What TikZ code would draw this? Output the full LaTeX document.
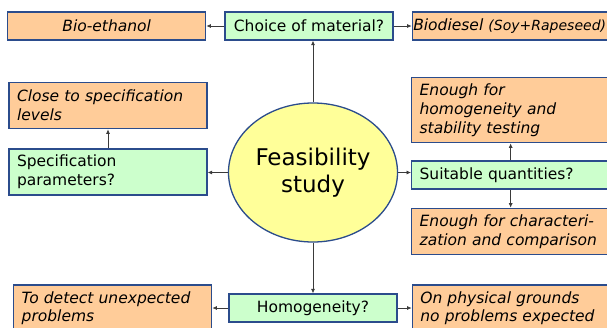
\documentclass[tikz,border=0pt]{standalone}
\usepackage{fontspec}
\setmainfont{DejaVu Sans}
\usepackage{tikz}
\usetikzlibrary{arrows.meta,positioning,shapes.geometric}
\definecolor{borde}{HTML}{2B4C8C}
\definecolor{naranja}{HTML}{FFCC99}
\definecolor{verde}{HTML}{CCFFCC}
\definecolor{amarillo}{HTML}{FFFF99}
\definecolor{linea}{HTML}{3A3A3A}

\begin{document}
\begin{tikzpicture}[x=1pt,y=-1pt,
    pregunta/.style={draw=borde,fill=verde,line width=1.3pt,minimum height=28pt,minimum width=168pt,inner sep=0pt,font=\fontsize{15.5}{19}\selectfont},
    respuesta/.style={draw=borde,fill=naranja,line width=1.3pt,minimum width=198pt,text width=182pt,inner xsep=8pt,inner ysep=0pt,align=left,font=\fontsize{15.5}{19}\selectfont\itshape},
    flecha/.style={-{Latex[length=4.5pt,width=4pt]},line width=0.7pt,linea}]
  \useasboundingbox (0,0) rectangle (607,327);
  \clip (0,0) rectangle (607,327);

  \node[ellipse,draw=borde,fill=amarillo,line width=1.3pt,minimum width=169pt,minimum height=139pt,inner sep=0pt,align=center,font=\fontsize{23}{27}\selectfont] (estudio) at (313,172.5) {Feasibility\\study};

  % top row
  \node[pregunta] (material) at (309,26) {Choice of material?};
  \node[respuesta,left=18pt of material,align=center,minimum height=28pt] (etanol) {Bio-ethanol};
  \node[respuesta,right=18pt of material,minimum height=28pt,inner xsep=1pt,text width=222pt] (biodiesel) {Biodiesel {\fontsize{14}{17}\selectfont(Soy+Rapeseed)}};

  % left column
  \node[respuesta,fill=verde,font=\fontsize{15.5}{19}\selectfont,minimum height=46pt] (parametros) at (108,172) {Specification\\parameters?};
  \node[respuesta,above=19pt of parametros,minimum height=46pt] (niveles) {Close to specification\\levels};

  % right column
  \node[pregunta,anchor=west,minimum width=198pt,text width=182pt,inner xsep=8pt,align=left] (cantidades) at (411,175) {Suitable quantities?};
  \node[respuesta,above=17pt of cantidades,minimum height=65pt] (ensayos) {Enough for\\homogeneity and\\stability testing};
  \node[respuesta,below=18pt of cantidades,minimum height=46pt] (comparacion) {Enough for characteri-\\zation and comparison};

  % bottom row
  \node[pregunta] (homogeneidad) at (313,308) {Homogeneity?};
  \node[respuesta,left=16pt of homogeneidad,minimum height=46pt,font=\fontsize{15.5}{17.5}\selectfont\itshape] (deteccion) {To detect unexpected\\problems};
  \node[respuesta,right=14pt of homogeneidad,minimum height=46pt,font=\fontsize{15.5}{17.5}\selectfont\itshape] (fisico) {On physical grounds\\no problems expected};

  \draw[flecha] (estudio.north) -- (estudio.north |- material.south);
  \draw[flecha] (material) -- (etanol);
  \draw[flecha] (material) -- (biodiesel.west |- material);
  \draw[flecha] (estudio.west) -- (estudio.west -| parametros.east);
  \draw[flecha] (parametros) -- (niveles);
  \draw[flecha] (estudio.east) -- (estudio.east -| cantidades.west);
  \draw[flecha] (cantidades) -- (ensayos);
  \draw[flecha] (cantidades) -- (comparacion);
  \draw[flecha] (estudio) -- (homogeneidad);
  \draw[flecha] (homogeneidad) -- (deteccion);
  \draw[flecha] (homogeneidad) -- (fisico.west |- homogeneidad);
\end{tikzpicture}
\end{document}
